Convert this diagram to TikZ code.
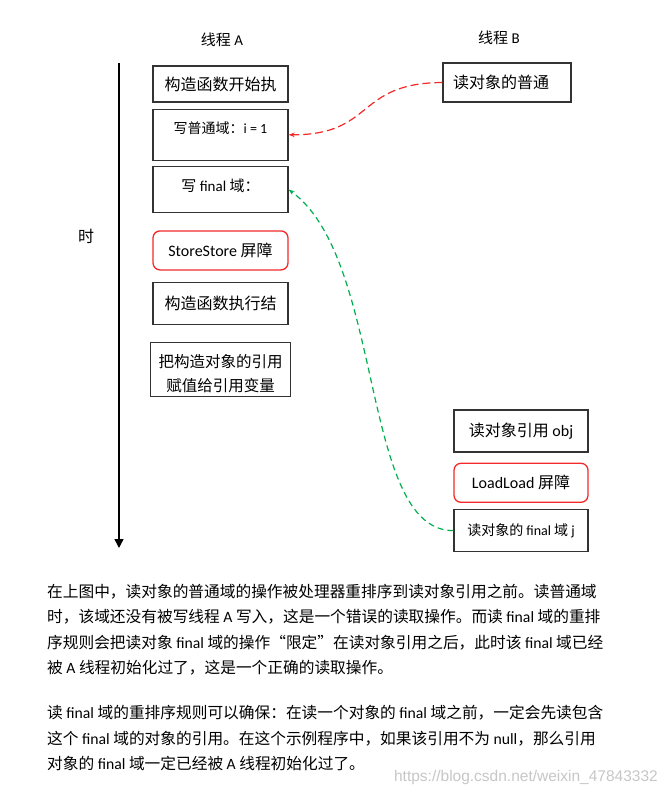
\documentclass[tikz,border=0pt]{standalone}
\usepackage{fontspec}
\setmainfont{Noto Sans CJK SC}
\newfontfamily\latf{Carlito}
\newfontfamily\wmf{Liberation Sans}
\newcommand{\lat}[1]{{\latf #1}}
\newcommand{\fs}[1]{\fontsize{#1}{#1}\selectfont}
\usetikzlibrary{arrows.meta,positioning}
\definecolor{lnred}{HTML}{F42A2A}
\definecolor{lngreen}{HTML}{00B050}
\tikzset{bx/.style={draw=black!80,line width=1.3pt,minimum width=135pt,inner sep=4pt,align=center,font=\fs{15}},
 br/.style={bx,draw=lnred,rounded corners=7pt},
 tl/.style={inner sep=1pt,font=\fs{15}},
 ax/.style={line width=1.4pt,-{Triangle[length=9pt,width=9pt]}},
 rd/.style={draw=lnred,line width=1.2pt,dash pattern=on 8pt off 4pt,-{Stealth[length=6pt]}},
 gd/.style={draw=lngreen,line width=1.2pt,dash pattern=on 6pt off 4pt,-{Stealth[length=6pt]}},
 tx/.style={align=left,anchor=north west,inner sep=0pt,font=\fontsize{15.7}{25.5}\selectfont}}

\begin{document}
\begin{tikzpicture}[x=1pt,y=-1pt]
\useasboundingbox[fill=white](0,0)rectangle(668,801);
% titles and time axis
\node[tl](ta) at (222,40){线程 \lat{A}};\node[tl](tb) at (499,38){线程 \lat{B}};
\coordinate(t0) at (119,63);\coordinate(t1) at (119,548);\draw[ax](t0)--(t1);
\node[tl,font=\fs{16}](tm) at (86,236){时};
% thread A
\node[bx,minimum height=36pt,font=\fs{16}](a1) at (220.5,84){构造函数开始执};
\node[bx,below=6pt of a1,font=\fs{14},text height=20pt,text depth=23pt](a2){写普通域：\lat{i = 1}};
\node[bx,below=5pt of a2,text height=21pt,text depth=17pt](a3){写 \lat{final} 域：};
\node[br,below=17pt of a3,minimum height=39pt,font=\fs{16}](a4){\lat{StoreStore} 屏障};
\node[bx,below=11pt of a4,minimum height=42pt,font=\fs{16}](a5){构造函数执行结};
\node[bx,below=17pt of a5,minimum height=54pt,minimum width=140pt,inner ysep=3.5pt,font=\fontsize{15.5}{24}\selectfont](a6){\rule{0pt}{21pt}把构造对象的引用\\赋值给引用变量};
% thread B
\node[bx,minimum width=128pt,minimum height=39pt,font=\fs{16}](b1) at (507,82.5){读对象的普通\hspace{12pt}};
\node[bx,minimum width=134pt,minimum height=42pt,font=\fs{16}](b2) at (521,431){读对象引用 \lat{obj}};
\node[br,below=10pt of b2,minimum width=134pt,minimum height=39pt,font=\fs{16}](b3){\lat{LoadLoad} 屏障};
\node[bx,below=6pt of b3,minimum width=134pt,minimum height=42pt,font=\fs{14}](b4){读对象的 \lat{final} 域 \lat{j}};
\draw[rd](b1.west)..controls(355,83)and(375,135)..(a2.east);
\draw[gd](b4.west)..controls(360,531)and(385,260)..(a3.east);
% text below
\node[tx](p1) at (47,584){在上图中，读对象的普通域的操作被处理器重排序到读对象引用之前。读普通域\\时，该域还没有被写线程 \lat{A} 写入，这是一个错误的读取操作。而读 \lat{final} 域的重排\\序规则会把读对象 \lat{final} 域的操作“限定”在读对象引用之后，此时该 \lat{final} 域已经\\被 \lat{A} 线程初始化过了，这是一个正确的读取操作。};
\node[tx](p2) at (47,705){读 \lat{final} 域的重排序规则可以确保：在读一个对象的 \lat{final} 域之前，一定会先读包含\\这个 \lat{final} 域的对象的引用。在这个示例程序中，如果该引用不为 \lat{null}，那么引用\\对象的 \lat{final} 域一定已经被 \lat{A} 线程初始化过了。};
\node[font=\wmf\fs{15.5},text=black!22,anchor=east,inner sep=0pt](wm) at (658,777){https://blog.csdn.net/weixin\_47843332};
\end{tikzpicture}
\end{document}
